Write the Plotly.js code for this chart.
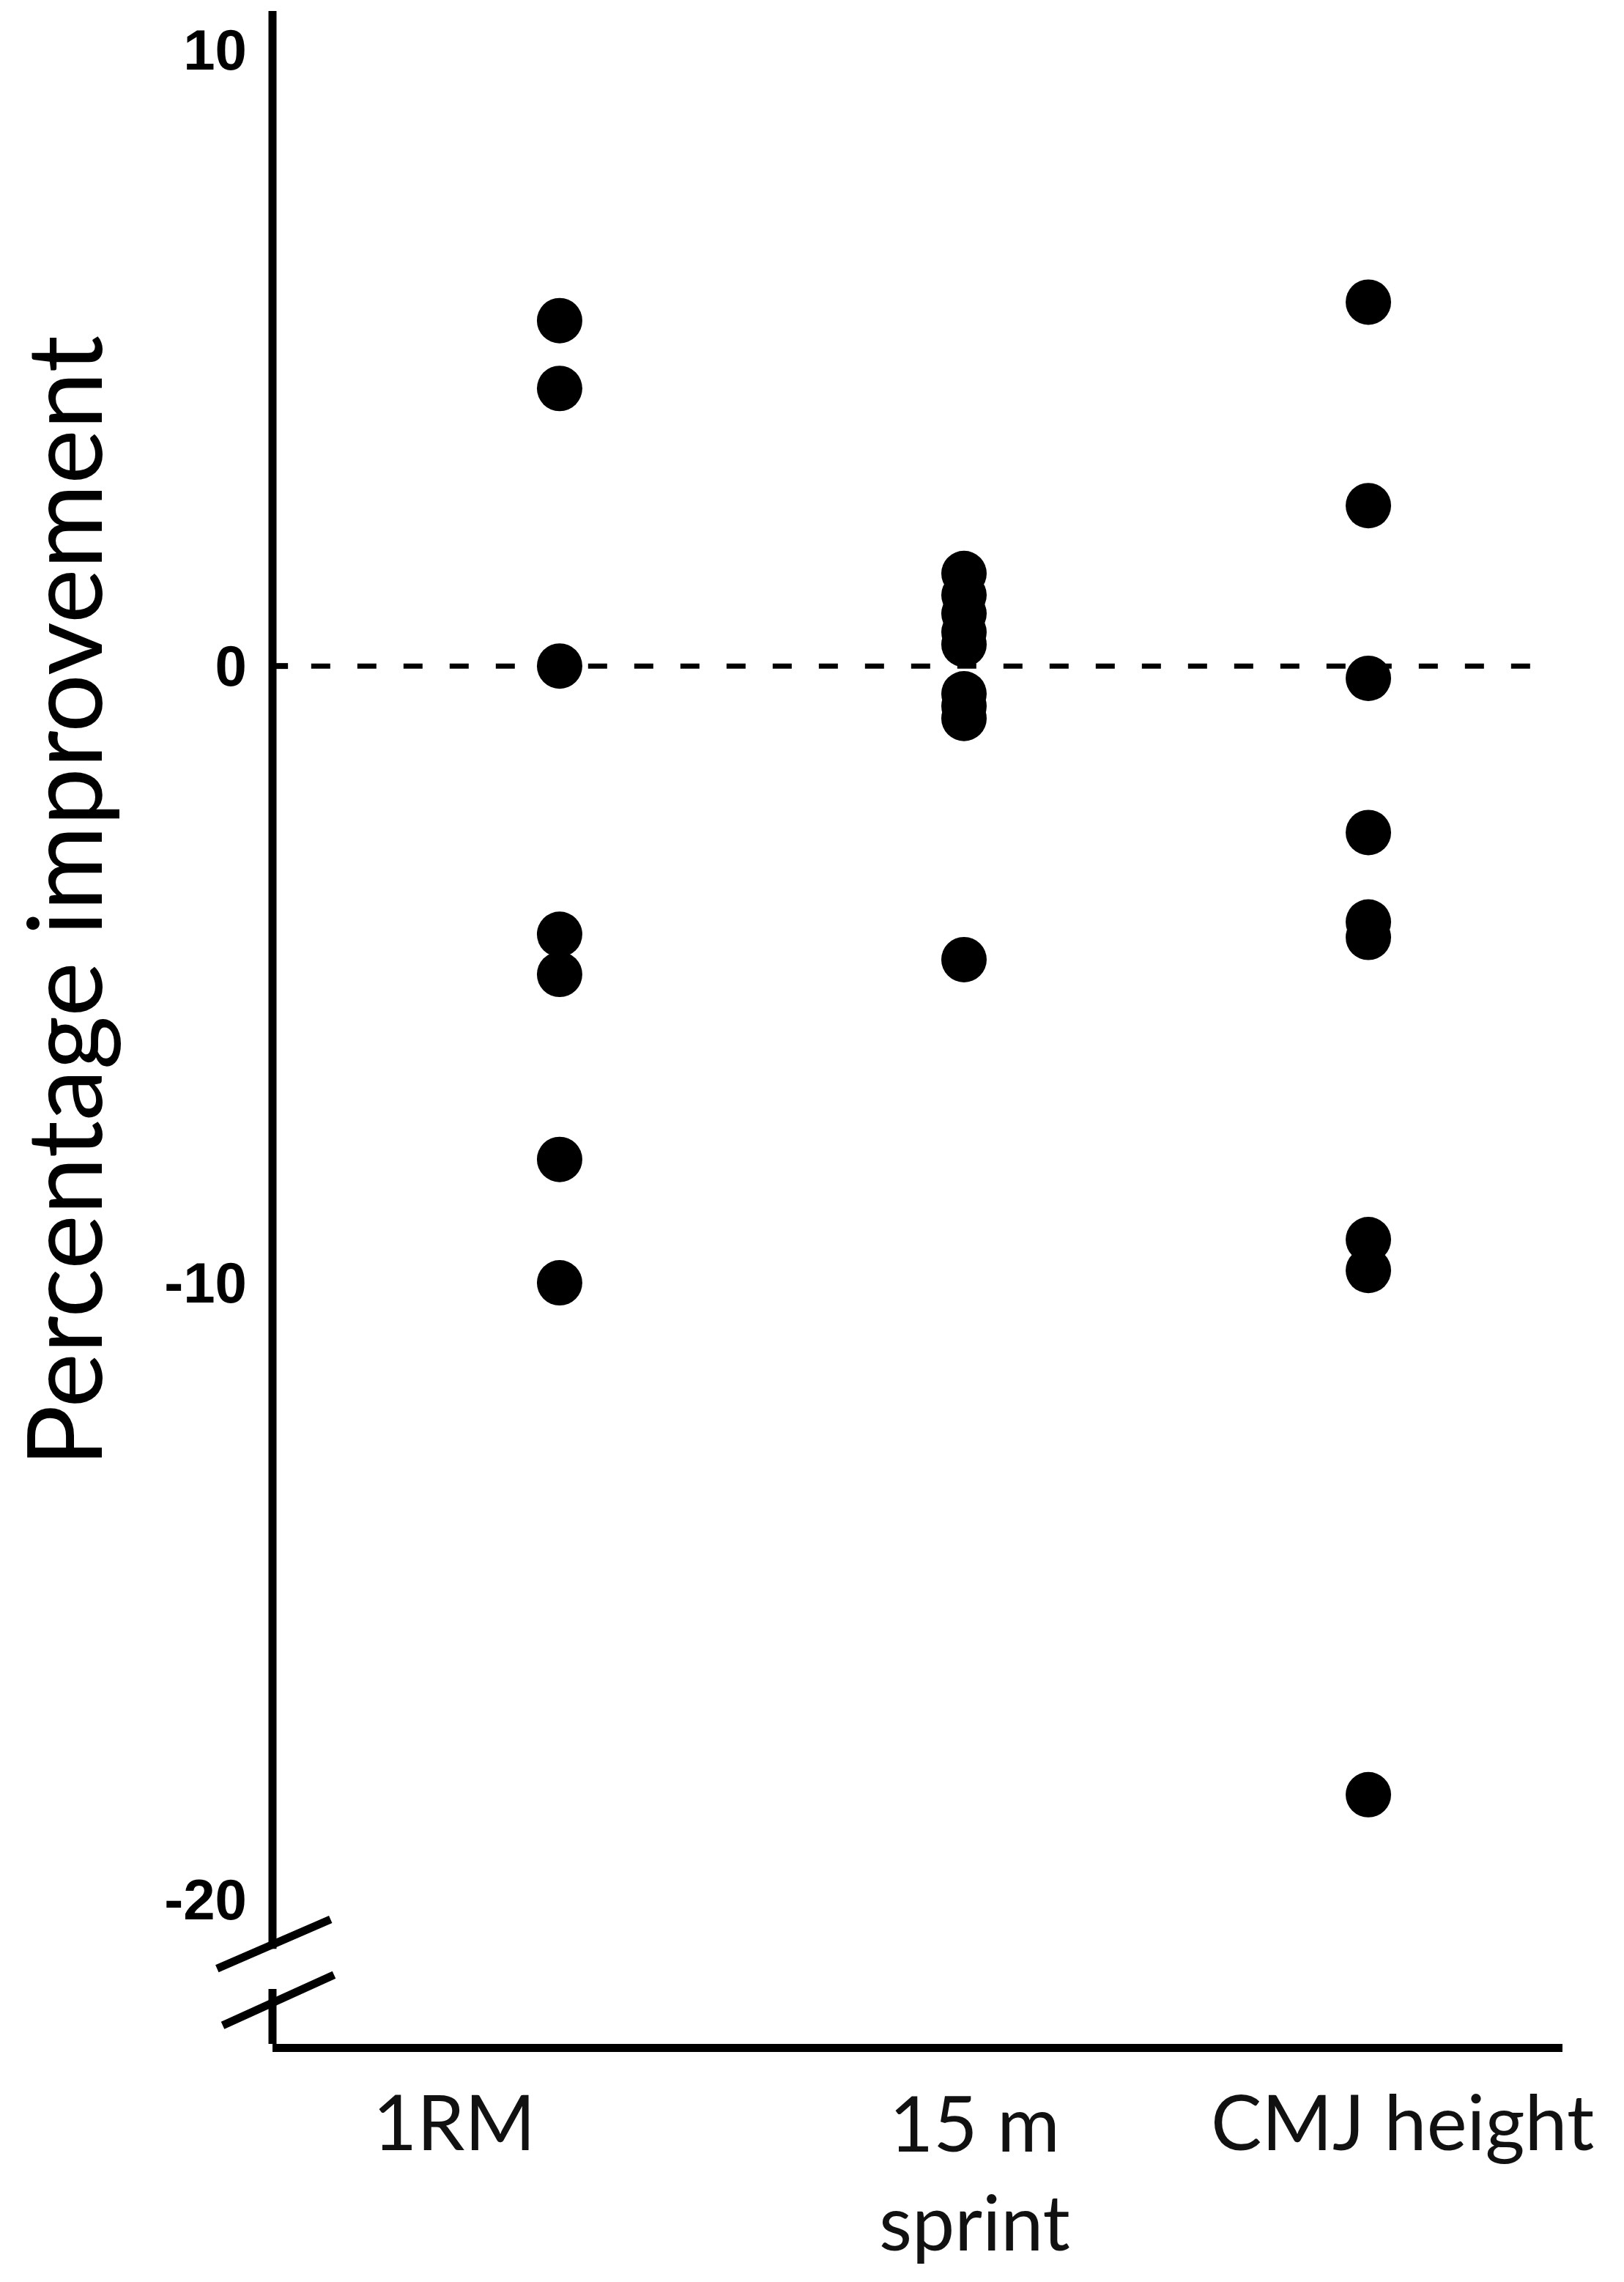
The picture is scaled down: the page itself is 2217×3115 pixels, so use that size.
<!DOCTYPE html>
<html>
<head>
<meta charset="utf-8">
<script src="https://cdn.plot.ly/plotly-3.0.1.min.js"></script>
<style>
  html, body { margin: 0; padding: 0; background: #fff; }
  #plot { width: 2217px; height: 3115px; }
</style>
</head>
<body>
<div id="plot"></div>
<script>
// Categories and values (percentage improvement per participant)
const categories = ['1RM', '15 m sprint', 'CMJ height'];
const categoryLabels = ['1RM', '15 m<br>sprint', 'CMJ height'];
const rmValues = [5.6, 4.5, 0, -4.35, -5.0, -8.0, -10.0];
const sprintValues = [1.5, 1.15, 0.85, 0.55, 0.35, -0.45, -0.65, -0.85, -4.76];
const cmjValues = [5.9, 2.6, -0.2, -2.7, -4.15, -4.4, -9.3, -9.8, -18.3];
const yTicks = [10, 0, -10, -20];

// One trace per category, all plain black dots
function dotTrace(category, values) {
    return {
        x: values.map(() => category),
        y: values,
        type: 'scatter',
        mode: 'markers',
        marker: { color: '#000', size: 62 },
        cliponaxis: false,
        showlegend: false,
        hoverinfo: 'y'
    };
}

const traces = [
    dotTrace(categories[0], rmValues),
    dotTrace(categories[1], sprintValues),
    dotTrace(categories[2], cmjValues)
];

// Label offsets from the dot columns (as in the original figure)
const labelXShift = [-144, 15, 46];
const labelYShift = [-104, -174, -104];

const annotations = categories.map((c, i) => ({
    x: c, xref: 'x',
    y: 0, yref: 'paper',
    text: categoryLabels[i],
    showarrow: false,
    xanchor: 'center', yanchor: 'middle',
    xshift: labelXShift[i], yshift: labelYShift[i],
    font: { family: 'Lato, "Open Sans", sans-serif', size: 104, color: '#111' }
}));

// rotated axis title
annotations.push({
    x: -0.1635, xref: 'paper',
    y: 0.562, yref: 'paper',
    text: 'Percentage improvement',
    textangle: -90,
    showarrow: false,
    xanchor: 'center', yanchor: 'middle',
    font: { family: 'Lato, "Open Sans", sans-serif', size: 141, color: '#000' }
});

const axisColor = '#000';
const shapes = [
    // y axis, upper part (above the break)
    { type: 'line', xref: 'paper', yref: 'paper', x0: 0, x1: 0, y0: 1, y1: 0, layer: 'above',
      line: { color: axisColor, width: 11 } },
    // white gap for the axis break
    { type: 'rect', xref: 'paper', yref: 'y', x0: -0.01, x1: 0.01, y0: -20.8, y1: -21.45, layer: 'above',
      fillcolor: '#fff', line: { width: 0 } },
    // break slashes
    { type: 'line', xref: 'paper', yref: 'y', x0: -0.043, y0: -21.12, x1: 0.045, y1: -20.32, layer: 'above',
      line: { color: axisColor, width: 11 } },
    { type: 'line', xref: 'paper', yref: 'y', x0: -0.0386, y0: -22.04, x1: 0.0477, y1: -21.22, layer: 'above',
      line: { color: axisColor, width: 11 } },
    // short tick at zero
    { type: 'line', xref: 'paper', yref: 'y', x0: 0, x1: 0.012, y0: 0, y1: 0, layer: 'above',
      line: { color: axisColor, width: 8 } },
    // dashed zero line
    { type: 'line', xref: 'paper', yref: 'y', x0: 0.03, x1: 0.988, y0: 0, y1: 0, layer: 'below',
      line: { color: axisColor, width: 7, dash: '26px,37px' } }
];

const layout = {
    width: 2217,
    height: 3115,
    margin: { l: 372, r: 84, t: 15, b: 325 },
    paper_bgcolor: '#fff',
    plot_bgcolor: '#fff',
    showlegend: false,
    xaxis: {
        type: 'category',
        categoryarray: categories,
        range: [-0.71, 2.48],
        showgrid: false,
        zeroline: false,
        showticklabels: false,
        ticks: '',
        showline: true,
        linecolor: axisColor,
        linewidth: 11
    },
    yaxis: {
        range: [-22.34, 10.62],
        tickvals: yTicks,
        ticktext: yTicks.map(String),
        showgrid: false,
        zeroline: false,
        showline: false,
        ticks: '',
        ticklabelstandoff: 34,
        tickfont: { family: '"Liberation Sans", Arial, sans-serif', size: 78, color: '#000', weight: 'bold' }
    },
    shapes: shapes,
    annotations: annotations
};

Plotly.newPlot('plot', traces, layout, { staticPlot: true });
</script>
</body>
</html>
